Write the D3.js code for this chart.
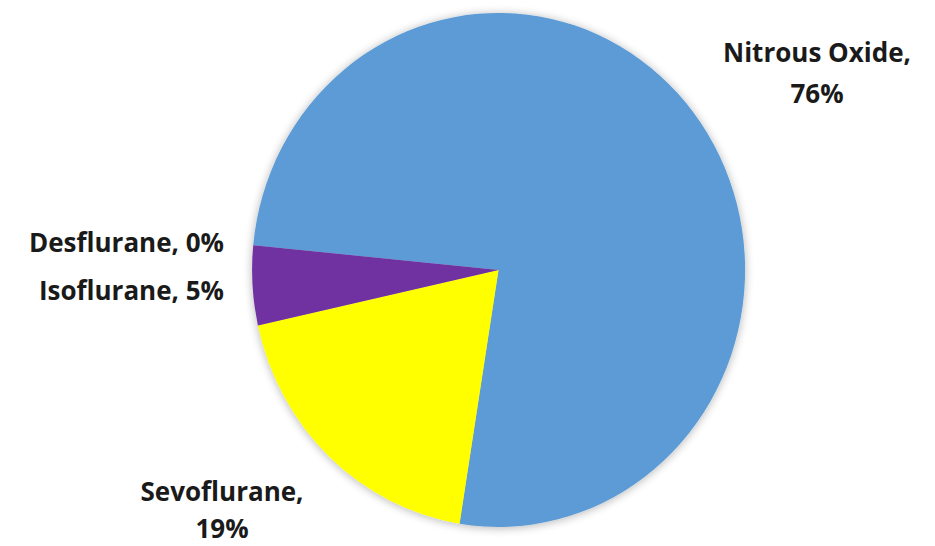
<!DOCTYPE html>
<html>
<head>
<meta charset="utf-8">
<script src="https://cdn.jsdelivr.net/npm/d3@7/dist/d3.min.js"></script>
<style>
  html, body { margin: 0; padding: 0; background: #fff; }
  svg { display: block; }
  text { font-family: "Open Sans", Lato, sans-serif; font-weight: 700; fill: #1a1a1a; }
</style>
</head>
<body>
<svg id="chart" width="935" height="546"></svg>
<script>
// Share of anaesthetic agent (percent)
const categories = ["Nitrous Oxide", "Sevoflurane", "Isoflurane", "Desflurane"];
const values = [76, 19, 5, 0];
const colors = ["#5B9BD5", "#FFFF00", "#7030A0", "#A5A5A5"];

const W = 935, H = 546;
const cx = 498.5, cy = 270;
const rx = 246.5, ry = 257;

const svg = d3.select("#chart");

const defs = svg.append("defs");
const shadow = defs.append("filter").attr("id", "pieShadow")
  .attr("x", "-10%").attr("y", "-10%").attr("width", "120%").attr("height", "120%");
shadow.append("feGaussianBlur").attr("in", "SourceAlpha").attr("stdDeviation", 5).attr("result", "blur");
shadow.append("feOffset").attr("in", "blur").attr("dx", 0).attr("dy", 1).attr("result", "off");
shadow.append("feComponentTransfer").attr("in", "off").attr("result", "soft")
  .append("feFuncA").attr("type", "linear").attr("slope", 0.3);
const merge = shadow.append("feMerge");
merge.append("feMergeNode").attr("in", "soft");
merge.append("feMergeNode").attr("in", "SourceGraphic");

const startAngle = -84.5 * Math.PI / 180;
const pie = d3.pie().sort(null).value(d => d.value)
  .startAngle(startAngle).endAngle(startAngle + 2 * Math.PI);
const data = categories.map((c, i) => ({ name: c, value: values[i], color: colors[i] }));
const arcs = pie(data);

const arc = d3.arc().innerRadius(0).outerRadius(1);

// Unit pie scaled to the slightly taller ellipse
const g = svg.append("g")
  .attr("filter", "url(#pieShadow)")
  .append("g")
  .attr("transform", `translate(${cx},${cy}) scale(${rx},${ry})`);

g.selectAll("path")
  .data(arcs.filter(d => d.value > 0))
  .join("path")
  .attr("d", arc)
  .attr("fill", d => d.data.color);

// Data labels
const fs = 26;
const labels = [
  { lines: [categories[0] + ",", values[0] + "%"], x: 817, y: [62, 103], anchor: "middle" },
  { lines: [categories[3] + ", " + values[3] + "%"], x: 224, y: [252], anchor: "end" },
  { lines: [categories[2] + ", " + values[2] + "%"], x: 224, y: [300], anchor: "end" },
  { lines: [categories[1] + ",", values[1] + "%"], x: 222, y: [501, 538], anchor: "middle" }
];

labels.forEach(l => {
  const t = svg.append("text")
    .attr("text-anchor", l.anchor)
    .attr("font-size", fs);
  l.lines.forEach((s, i) => {
    t.append("tspan").attr("x", l.x).attr("y", l.y[i]).text(s);
  });
});
</script>
</body>
</html>
